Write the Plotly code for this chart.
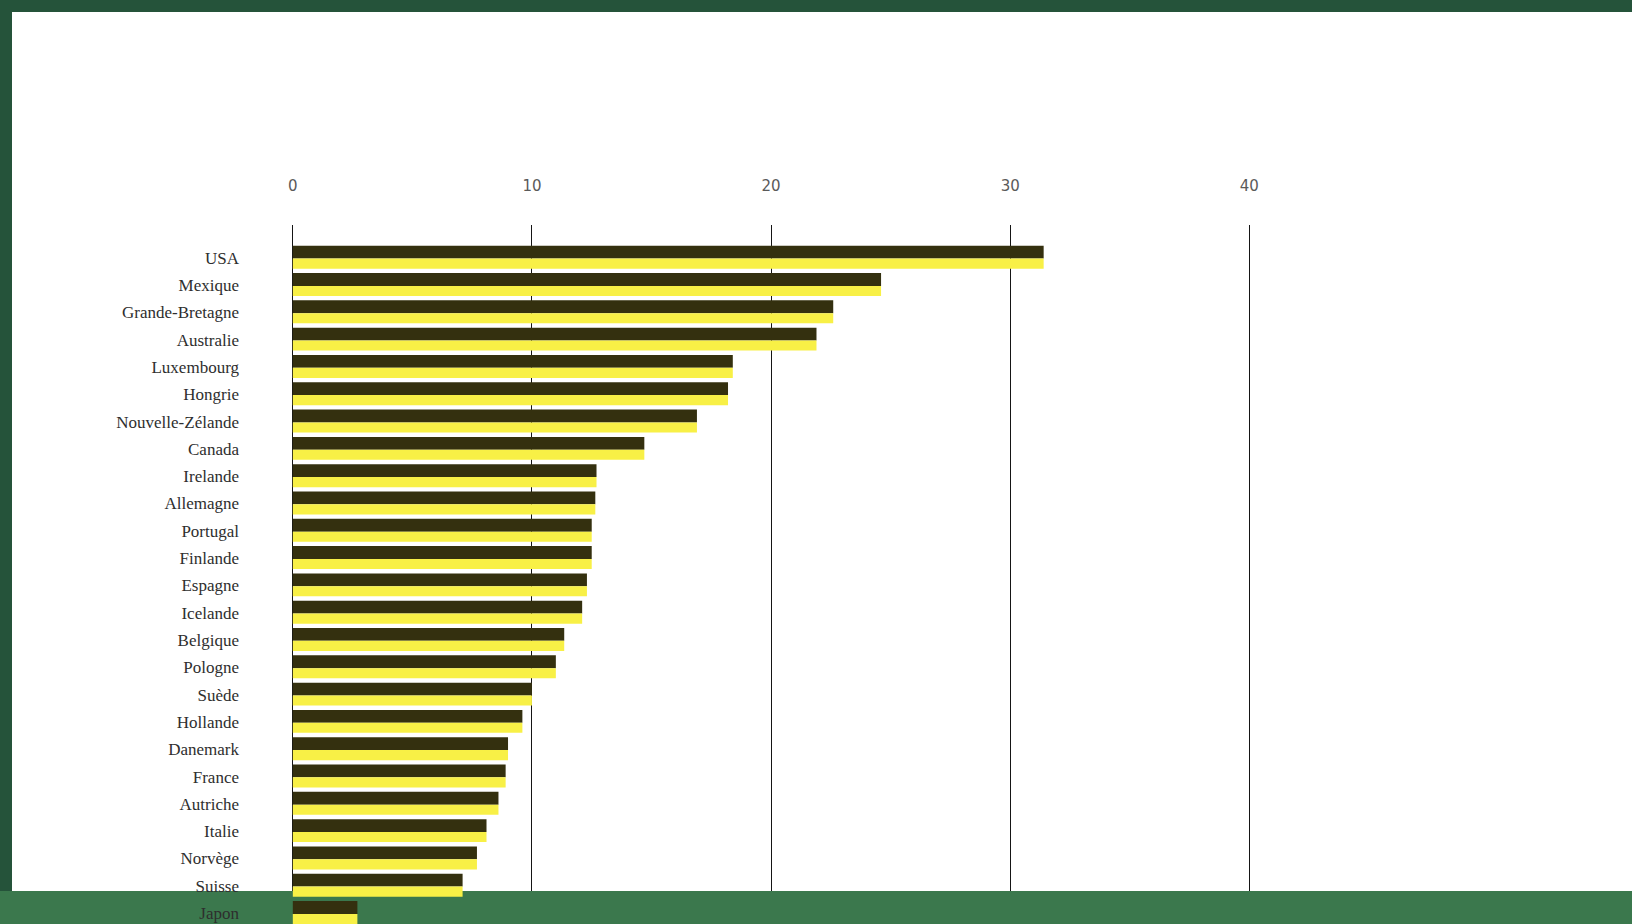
import plotly.graph_objects as go

countries = ["USA", "Mexique", "Grande-Bretagne", "Australie", "Luxembourg", "Hongrie",
             "Nouvelle-Zélande", "Canada", "Irelande", "Allemagne", "Portugal", "Finlande",
             "Espagne", "Icelande", "Belgique", "Pologne", "Suède", "Hollande", "Danemark",
             "France", "Autriche", "Italie", "Norvège", "Suisse", "Japon"]
values = [31.4, 24.6, 22.6, 21.9, 18.4, 18.2, 16.9, 14.7, 12.7, 12.65, 12.5, 12.5,
          12.3, 12.1, 11.35, 11.0, 10.0, 9.6, 9.0, 8.9, 8.6, 8.1, 7.7, 7.1, 2.7]
tick_values = [0, 10, 20, 30, 40]

DARK = "#34300f"
YELLOW = "#f8f046"
GREEN_TOP = "#25533a"
GREEN_BOTTOM = "#3b784d"

W, H = 1632, 924
ML, MR, MT, MB = 245, 8, 225, 0
PANEL_LEFT, PANEL_TOP, PANEL_BOTTOM = 12, 12, 891
plot_w = W - ML - MR
plot_h = H - MT - MB
pb = (H - MB - PANEL_BOTTOM) / plot_h   # panel bottom in paper fraction
X_RANGE = [-2, 55.67]

fig = go.Figure()
# empty trace so that the grid subplot (x, y) is drawn
fig.add_trace(go.Scatter(x=[], y=[], mode="markers", xaxis="x", yaxis="y",
                         hoverinfo="skip", showlegend=False))
# top (dark) face of each bar
fig.add_trace(go.Bar(
    y=countries, x=values, orientation="h", xaxis="x2", yaxis="y2",
    marker=dict(color=DARK, line=dict(width=0)),
    offset=-0.44, width=0.47, hoverinfo="x+y", showlegend=False,
))
# front (yellow) face of each bar
fig.add_trace(go.Bar(
    y=countries, x=values, orientation="h", xaxis="x2", yaxis="y2",
    marker=dict(color=YELLOW, line=dict(width=0)),
    offset=0.03, width=0.37, hoverinfo="x+y", showlegend=False,
))

fig.update_layout(
    width=W, height=H,
    barmode="overlay",
    paper_bgcolor=GREEN_TOP,
    plot_bgcolor="rgba(0,0,0,0)",
    margin=dict(l=ML, r=MR, t=MT, b=MB, pad=0),
    showlegend=False,
    # axis carrying the gridlines and value labels (grid stops at the panel)
    xaxis=dict(
        side="top", range=X_RANGE, anchor="y", domain=[0, 1],
        tickvals=tick_values, ticktext=[str(v) for v in tick_values],
        showgrid=True, gridcolor="#151515", gridwidth=1.4,
        zeroline=False, showline=False, ticks="",
        ticklabelstandoff=30,
        tickfont=dict(family="DejaVu Sans", size=15, color="#5a5a5a"),
    ),
    yaxis=dict(domain=[pb, 1], range=[0, 1], anchor="x",
               showgrid=False, zeroline=False, showline=False,
               showticklabels=False, ticks=""),
    # axes carrying the bars
    xaxis2=dict(range=X_RANGE, anchor="y2", domain=[0, 1],
                showgrid=False, zeroline=False, showline=False,
                showticklabels=False, ticks=""),
    yaxis2=dict(
        domain=[0, 1], anchor="x2",
        type="category", categoryorder="array", categoryarray=countries,
        range=[24.4, -1.2],
        showgrid=False, zeroline=False, showline=False, ticks="",
        ticklabelstandoff=5,
        tickfont=dict(family="Liberation Serif", size=17, color="#2e2e2e"),
    ),
    shapes=[
        dict(type="rect", xref="paper", yref="paper", layer="below",
             x0=(PANEL_LEFT - ML) / plot_w, x1=(W - ML) / plot_w + 0.01,
             y0=pb, y1=(H - MB - PANEL_TOP) / plot_h,
             fillcolor="white", line=dict(width=0)),
        dict(type="rect", xref="paper", yref="paper", layer="below",
             x0=-0.5, x1=1.5, y0=-0.1, y1=pb,
             fillcolor=GREEN_BOTTOM, line=dict(width=0)),
    ],
)

fig.write_html("out.html", include_plotlyjs=True, config={"displayModeBar": False})
